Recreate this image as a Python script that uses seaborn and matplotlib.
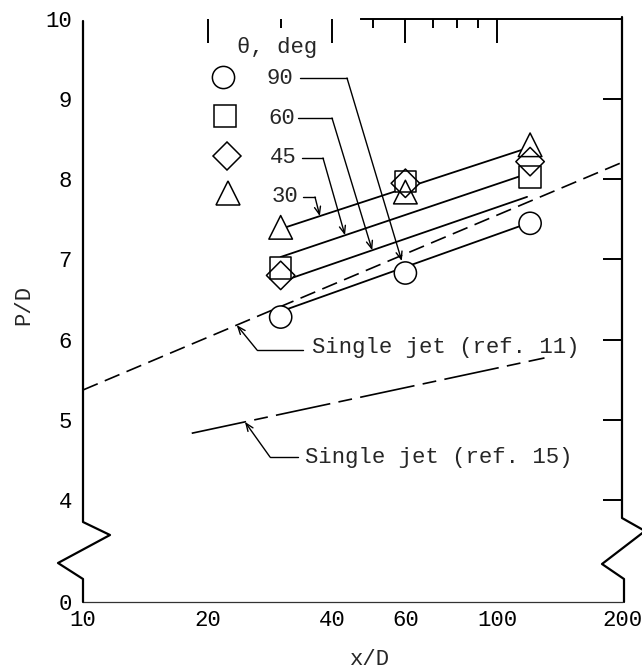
import numpy as np
import matplotlib
matplotlib.use("Agg")
import matplotlib.pyplot as plt
from matplotlib.lines import Line2D
from matplotlib.ticker import NullFormatter, NullLocator
import seaborn as sns

# ---- data -------------------------------------------------------------
angles = ["90", "60", "45", "30"]          # jet angle theta, deg
x_stations = [30, 60, 120]                 # x/D stations

pd_90 = [6.28, 6.83, 7.45]
pd_60 = [6.89, 7.97, 8.03]
pd_45 = [6.80, 7.95, 8.22]
pd_30 = [7.40, 7.84, 8.43]

# faired lines through each angle's data
fit_x_90 = [30, 120]
fit_y_90 = [6.35, 7.46]
fit_x_60 = [30, 118]
fit_y_60 = [6.72, 7.78]
fit_x_45 = [30, 120]
fit_y_45 = [7.03, 8.08]
fit_x_30 = [30, 120]
fit_y_30 = [7.38, 8.40]

# single-jet correlations
ref11_x = [10, 200]
ref11_y = [5.37, 8.21]
ref15_x = [18.3, 130]
ref15_y = [4.83, 5.77]

x_ticks = [10, 20, 40, 60, 100, 200]
x_minor = [30, 50, 70, 80, 90]
y_ticks = [0, 4, 5, 6, 7, 8, 9, 10]

points = {"90": pd_90, "60": pd_60, "45": pd_45, "30": pd_30}
fits = {"90": (fit_x_90, fit_y_90), "60": (fit_x_60, fit_y_60),
        "45": (fit_x_45, fit_y_45), "30": (fit_x_30, fit_y_30)}
marker_of = {"90": "o", "60": "s", "45": "D", "30": "^"}
size_of = {"90": 16, "60": 15.5, "45": 14.5, "30": 17}

# ---- broken y axis: values below 4 are squeezed ------------------------
Y_BREAK = 4.0
SQUEEZE = 0.319


def fwd(y):
    y = np.asarray(y, dtype=float)
    return np.where(y >= Y_BREAK, y, Y_BREAK - (Y_BREAK - y) * SQUEEZE)


def inv(z):
    z = np.asarray(z, dtype=float)
    return np.where(z >= Y_BREAK, z, Y_BREAK - (Y_BREAK - z) / SQUEEZE)


def on_line(xs, ys, x):
    return float(np.interp(np.log10(x), np.log10(xs), ys))


# ---- figure --------------------------------------------------------------
sns.set_style("white")
plt.rcParams["font.family"] = ["Liberation Mono", "DejaVu Sans"]
plt.rcParams["lines.scale_dashes"] = False

W, H = 642, 669
L, R, T, B = 83, 622, 19, 602
fig = plt.figure(figsize=(W / 100, H / 100), dpi=100)
ax = fig.add_axes([L / W, 1 - B / H, (R - L) / W, (B - T) / H])


def fig_xy(px, py):
    return px / W, 1 - py / H


def ax_xy(px, py):
    return (px - L) / (R - L), (B - py) / (B - T)


ax.set_xscale("log")
ax.set_yscale("function", functions=(fwd, inv))
ax.set_xlim(10, 200)
ax.set_ylim(0, 10)

FS = 16

# faired lines
for a in angles:
    fx, fy = fits[a]
    sns.lineplot(x=fx, y=fy, ax=ax, color="black", lw=1.3, zorder=2)

# single-jet reference lines
sns.lineplot(x=ref11_x, y=ref11_y, ax=ax, color="black", lw=1.2,
             linestyle=(0, (11.5, 5.5)), zorder=2)
sns.lineplot(x=ref15_x, y=ref15_y, ax=ax, color="black", lw=1.2,
             linestyle=(0, (40, 6, 10, 6)), zorder=2)

# symbols: white underlay hides the lines, outlines stay visible
for a in angles:
    sns.scatterplot(x=x_stations, y=points[a], ax=ax, marker=marker_of[a],
                    s=size_of[a] ** 2, color="white", edgecolor="none",
                    linewidth=0, zorder=3)
for a in angles:
    sns.scatterplot(x=x_stations, y=points[a], ax=ax, marker=marker_of[a],
                    s=size_of[a] ** 2, facecolor="none", edgecolor="black",
                    linewidth=1.1, zorder=4)

# ---- axes frame ----------------------------------------------------------
for side in ("left", "right"):
    ax.spines[side].set_visible(False)
ax.spines["top"].set_bounds(47, 200)
ax.spines["top"].set_linewidth(1.4)
ax.spines["top"].set_color("black")
ax.spines["bottom"].set_linewidth(0.9)
ax.spines["bottom"].set_color("#333333")

left_edge = [(L, T + 2), (L, 522), (110, 535), (58, 563), (L, 579), (L, B)]
right_edge = [(R, T - 2), (R, 518), (645, 531), (602, 564), (624, 579), (624, B)]
for edge in (left_edge, right_edge):
    xy = np.array([ax_xy(px, py) for px, py in edge])
    ax.plot(xy[:, 0], xy[:, 1], color="black", lw=1.6,
            transform=ax.transAxes, clip_on=False, zorder=5)

# ---- ticks -----------------------------------------------------------------
ax.set_xticks(x_ticks)
ax.set_xticklabels([str(v) for v in x_ticks])
ax.set_xticks(x_minor, minor=True)
ax.xaxis.set_minor_formatter(NullFormatter())
ax.set_yticks(y_ticks)
ax.set_yticklabels([str(v) for v in y_ticks])
ax.yaxis.set_minor_locator(NullLocator())

ax.tick_params(axis="both", which="both", direction="in", top=True,
               right=True, width=1.4, color="black", labelsize=FS,
               labelcolor="black")
ax.tick_params(axis="y", which="major", length=14, pad=8)
ax.tick_params(axis="x", which="major", length=19, pad=6)
ax.tick_params(axis="x", which="minor", length=8.5)

for t in ax.xaxis.get_major_ticks():
    t.tick2line.set_markersize(17)
for t in ax.xaxis.get_minor_ticks():
    t.tick2line.set_markersize(6.5)
xt = ax.xaxis.get_major_ticks()
for t in (xt[0], xt[-1]):
    t.tick1line.set_visible(False)
    t.tick2line.set_visible(False)
yt = ax.yaxis.get_major_ticks()
for t in (yt[0], yt[-1]):
    t.tick1line.set_visible(False)
    t.tick2line.set_visible(False)

ax.set_xlabel("x/D", fontsize=FS)
ax.xaxis.set_label_coords(0.532, -0.08)
ax.set_ylabel("P/D", fontsize=FS)
ax.yaxis.set_label_coords(-0.09, 0.51)

# ---- key ---------------------------------------------------------------------
fig.text(*fig_xy(237, 47), "\u03b8, deg", fontsize=FS, ha="left", va="center")
key_marker = {"90": (223, 77), "60": (225, 116), "45": (227, 156), "30": (228, 193)}
key_label = {"90": (267, 79), "60": (268, 118), "45": (270, 158), "30": (272, 197)}
for a in angles:
    mx, my = fig_xy(*key_marker[a])
    fig.add_artist(Line2D([mx], [my], marker=marker_of[a], ms=size_of[a],
                          mfc="white", mec="black", mew=1.1, ls="none",
                          transform=fig.transFigure))
    fig.text(*fig_xy(*key_label[a]), a, fontsize=FS, ha="left", va="center")

arrow_style = dict(arrowstyle="->,head_length=0.55,head_width=0.22",
                   lw=1.0, color="black", shrinkA=0)


def leader(p0, p1, tip, shrink=0):
    x0, y0 = fig_xy(*p0)
    x1, y1 = fig_xy(*p1)
    fig.add_artist(Line2D([x0, x1], [y0, y1], color="black", lw=1.0,
                          transform=fig.transFigure))
    ax.annotate("", xy=tip, xycoords="data", xytext=(x1, y1),
                textcoords="figure fraction",
                arrowprops=dict(arrow_style, shrinkB=shrink))


# angle leaders to their faired lines
leader((300, 78), (347, 78), (60, pd_90[1]), shrink=9)
leader((298, 118), (332, 118), (49.9, on_line(fit_x_60, fit_y_60, 49.9)))
leader((302, 158), (323, 158), (42.9, on_line(fit_x_45, fit_y_45, 42.9)))
leader((303, 197), (315, 197), (37.3, on_line(fit_x_30, fit_y_30, 37.3)))

# single-jet labels
fig.text(*fig_xy(312, 347), "Single jet (ref. 11)", fontsize=FS,
         ha="left", va="center")
leader((303, 350), (257, 350), (23.5, on_line(ref11_x, ref11_y, 23.5)))
fig.text(*fig_xy(305, 457), "Single jet (ref. 15)", fontsize=FS,
         ha="left", va="center")
leader((298, 457), (270, 457), (24.6, on_line(ref15_x, ref15_y, 24.6)))

fig.savefig("out.png", dpi=100)
